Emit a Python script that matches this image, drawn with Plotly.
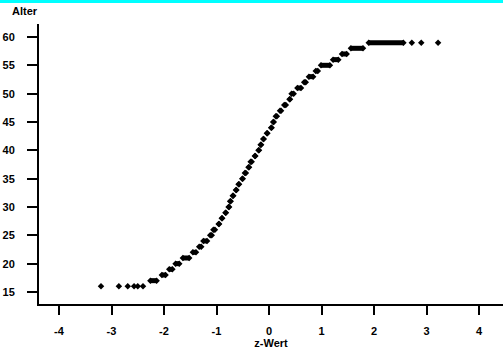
import plotly.graph_objects as go

# Ages (integer) and the z-value range of each run of points
ages = [17, 18, 19, 20, 21, 22, 23, 24, 25, 26, 27, 28, 29, 30, 31, 32, 33, 34, 35, 36,
        37, 38, 39, 40, 41, 42, 43, 44, 45, 46, 47, 48, 49, 50, 51, 52, 53, 54, 55, 56,
        57, 58, 59]
z_lo = [-2.26, -2.04, -1.90, -1.78, -1.64, -1.45, -1.33, -1.25, -1.12, -1.06, -0.96, -0.90,
        -0.83, -0.77, -0.74, -0.69, -0.63, -0.58, -0.51, -0.46, -0.39, -0.35, -0.27, -0.20,
        -0.16, -0.11, -0.04, 0.04, 0.08, 0.13, 0.21, 0.29, 0.39, 0.43, 0.54, 0.67, 0.76,
        0.89, 0.99, 1.22, 1.39, 1.56, 1.90]
z_hi = [-2.14, -1.97, -1.84, -1.71, -1.52, -1.39, -1.29, -1.18, -1.09, -1.03, -0.95, -0.89,
        -0.82, -0.76, -0.73, -0.68, -0.62, -0.57, -0.50, -0.44, -0.38, -0.33, -0.26, -0.19,
        -0.15, -0.10, -0.03, 0.05, 0.09, 0.15, 0.23, 0.32, 0.40, 0.47, 0.61, 0.70, 0.84,
        0.93, 1.16, 1.32, 1.48, 1.79, 2.56]

# Individually visible points in the tails
tail_z = [-3.20, -2.86, -2.69, -2.57, -2.50, -2.40, 2.72, 2.90, 3.22]
tail_age = [16, 16, 16, 16, 16, 16, 59, 59, 59]

x_ticks = [-4, -3, -2, -1, 0, 1, 2, 3, 4]
x_ticktext = ["-4", "-3", "-2", "-1", "0", "1", "2", "3", "4"]
y_ticks = [15, 20, 25, 30, 35, 40, 45, 50, 55, 60]

run_x, run_y = [], []
for a, lo, hi in zip(ages, z_lo, z_hi):
    run_x += [lo, hi, None]
    run_y += [a, a, None]

fig = go.Figure()
fig.add_trace(go.Scatter(x=run_x, y=run_y, mode="lines+markers",
                         line=dict(color="black", width=5),
                         marker=dict(symbol="diamond", size=5, color="black"),
                         hoverinfo="skip", showlegend=False))
fig.add_trace(go.Scatter(x=tail_z, y=tail_age, mode="markers",
                         marker=dict(symbol="diamond", size=5, color="black"),
                         showlegend=False))

font = dict(family="Liberation Sans, Arial, sans-serif", size=11, color="black", weight="bold")

fig.update_layout(
    width=503, height=353,
    margin=dict(l=39, r=0, t=24, b=49, pad=0),
    paper_bgcolor="white", plot_bgcolor="white",
    font=font,
    xaxis=dict(range=[-4.381, 4.457], tickvals=x_ticks, ticktext=x_ticktext,
               showgrid=False, zeroline=False,
               showline=True, linecolor="black", linewidth=2,
               ticks="outside", ticklen=9, tickwidth=2, tickcolor="black",
               tickfont=font, ticklabelstandoff=7,
               title=dict(text="z-Wert", font=font, standoff=2)),
    yaxis=dict(range=[12.88, 62.29], tickvals=y_ticks, showgrid=False, zeroline=False,
               showline=True, linecolor="black", linewidth=2,
               ticks="outside", ticklen=10, tickwidth=2, tickcolor="black",
               tickfont=font, ticklabelstandoff=10),
    shapes=[dict(type="rect", xref="paper", yref="paper", x0=-0.09, x1=1.01,
                 y0=1.075, y1=1.1, fillcolor="#00FFFF", line=dict(width=0), layer="above")],
    annotations=[dict(text="Alter", xref="paper", yref="paper", x=-0.063, y=1.045,
                      xanchor="left", yanchor="middle", showarrow=False, font=font)],
)

fig.write_html("out.html")
